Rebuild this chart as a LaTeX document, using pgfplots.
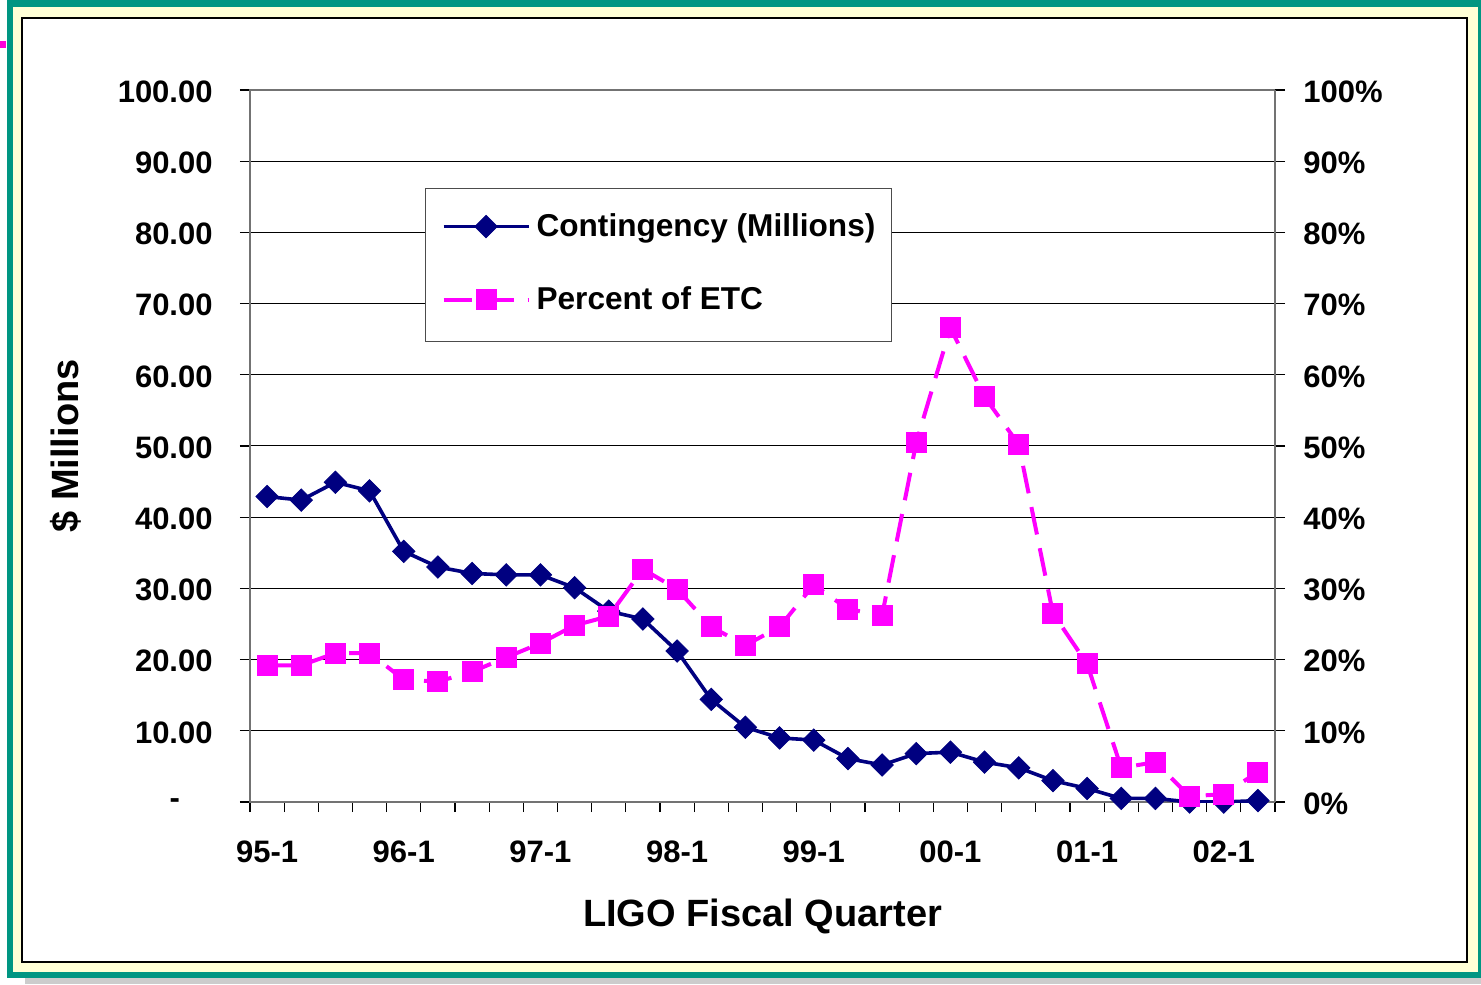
\documentclass[border=0pt]{standalone}
\usepackage{pgfplots}
\pgfplotsset{compat=1.18}
\usepackage{fontspec}
\setmainfont{Liberation Sans}
\definecolor{tealframe}{RGB}{0,150,130}
\definecolor{paleyellow}{RGB}{255,255,214}
\definecolor{navy}{RGB}{0,0,128}
\definecolor{mag}{RGB}{255,0,255}
\begin{document}
\begin{tikzpicture}
\begin{scope}[x=0.5pt,y=-0.5pt,shift={(-250,-802)}]
\useasboundingbox (0,0) rectangle (1481,984);
\fill[black!20] (25,978) rectangle (1481,984);
\fill[tealframe] (7,0) rectangle (1481,978);
\fill[paleyellow] (13,7) rectangle (1478,972);
\filldraw[fill=white,draw=black,line width=0.75pt] (22,18) rectangle (1467,962);
\fill[mag!85!red] (0,41) rectangle (6,48);
\end{scope}
\begin{axis}[
  scale only axis, width=512.5pt, height=356pt,
  xmin=-0.5, xmax=29.5, ymin=0, ymax=100,
  axis line style={draw=black!55, line width=1.1pt},
  tick align=outside, major tick length=5pt,
  tick style={black, line width=0.6pt},
  ytick pos=left, xtick pos=bottom,
  ytick={0,10,...,100},
  yticklabels={{\makebox[21.5pt][l]{-}},10.00,20.00,30.00,40.00,50.00,60.00,70.00,80.00,90.00,100.00},
  ymajorgrids, grid style={black, line width=0.5pt},
  xtick={-0.5,0.5,...,29.5}, xticklabels={},
  extra x ticks={0,4,...,28},
  extra x tick labels={95-1,96-1,97-1,98-1,99-1,00-1,01-1,02-1},
  extra x tick style={tick style={draw=none}, grid=none},
  ticklabel style={font=\fontsize{15.5}{18}\selectfont\bfseries},
  yticklabel style={anchor=east, inner sep=0pt, xshift=-13.5pt, yshift=-0.8pt},
  xticklabel style={anchor=center, inner sep=0pt, yshift=-20pt},
  xlabel={LIGO Fiscal Quarter},
  xlabel style={at={(axis description cs:0.5,-0.161)}, anchor=center, font=\fontsize{19}{22}\selectfont\bfseries},
  ylabel={\$ Millions},
  ylabel style={at={(axis description cs:-0.1795,0.5)}, anchor=center, font=\fontsize{19}{22}\selectfont\bfseries},
  legend cell align=left,
  legend style={at={(axis description cs:0.1707,0.8624)}, anchor=north west,
    draw=black!70, line width=0.6pt, inner xsep=8pt, inner ysep=12.5pt,
    font=\fontsize{15.8}{19}\selectfont\bfseries,
    nodes={inner sep=0pt, text height=11.5pt, text depth=3.5pt, yshift=-1pt},
    row sep=21.5pt, column sep=3pt},
  legend image code/.code={\draw[mark repeat=2,mark phase=2,#1] plot coordinates {(0pt,0pt) (21.25pt,0pt) (42.5pt,0pt)};},
]
\addplot[navy, line width=1.8pt, mark=diamond*, mark size=5.6pt,
  mark options={solid, xscale=1.333, fill=navy, draw=navy, line width=0.4pt}]
  coordinates {
  (0,42.9) (1,42.4) (2,44.9) (3,43.7) (4,35.2) (5,33.0) (6,32.1) (7,31.9) (8,31.9) (9,30.1)
  (10,26.8) (11,25.7) (12,21.2) (13,14.4) (14,10.5) (15,9.0) (16,8.7) (17,6.1) (18,5.2) (19,6.8)
  (20,7.0) (21,5.6) (22,4.8) (23,3.0) (24,1.9) (25,0.5) (26,0.5) (27,0.0) (28,0.0) (29,0.2)
  };
\addlegendentry{Contingency (Millions)}
\addplot[mag, line width=2pt, dash pattern=on 14pt off 7pt, mark=square*, mark size=5pt,
  mark options={solid, fill=mag, draw=mag, line width=0.5pt}]
  coordinates {
  (0,19.2) (1,19.2) (2,20.9) (3,20.9) (4,17.2) (5,16.9) (6,18.3) (7,20.3) (8,22.3) (9,24.8)
  (10,26.1) (11,32.7) (12,29.9) (13,24.6) (14,22.0) (15,24.6) (16,30.5) (17,27.1) (18,26.2) (19,50.5)
  (20,66.6) (21,56.9) (22,50.2) (23,26.5) (24,19.4) (25,4.8) (26,5.6) (27,0.8) (28,1.1) (29,4.2)
  };
\addlegendentry{Percent of ETC}
\end{axis}
\begin{axis}[
  scale only axis, width=512.5pt, height=356pt,
  xmin=-0.5, xmax=29.5, ymin=0, ymax=100,
  axis x line=none, axis y line*=right,
  axis line style={draw=black!55, line width=1.1pt},
  tick align=outside, major tick length=5pt,
  tick style={black, line width=0.6pt},
  ytick={0,10,...,100},
  yticklabels={0\%,10\%,20\%,30\%,40\%,50\%,60\%,70\%,80\%,90\%,100\%},
  ticklabel style={font=\fontsize{15.5}{18}\selectfont\bfseries},
  yticklabel style={anchor=west, inner sep=0pt, xshift=9pt, yshift=-0.8pt},
]
\end{axis}
\end{tikzpicture}
\end{document}
